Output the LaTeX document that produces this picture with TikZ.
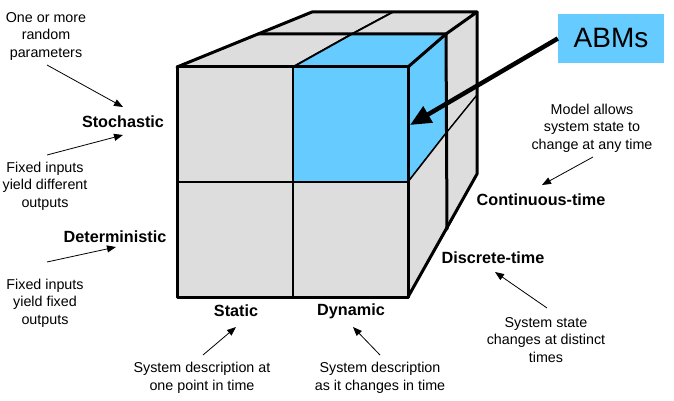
\documentclass[tikz,border=0pt]{standalone}
\usepackage{fontspec}
\setmainfont{Liberation Sans}
\usetikzlibrary{arrows.meta}
\definecolor{facegray}{RGB}{221,221,221}
\definecolor{abmblue}{RGB}{102,204,255}
\begin{document}
\begin{tikzpicture}[x=1pt,y=-1pt,
  face/.style={fill=facegray, draw=black, line width=1.8pt, line join=round},
  bluef/.style={fill=abmblue, draw=black, line width=1.8pt, line join=round},
  thinface/.style={fill=facegray, draw=black, line width=1.3pt, line join=round},
  outer/.style={draw=black, line width=3pt, line join=round, line cap=round},
  lbl/.style={font=\fontsize{16.2}{19}\selectfont\bfseries, inner sep=0pt},
  note/.style={font=\fontsize{14.3}{17.5}\selectfont, align=center, inner sep=0pt},
  thinarrow/.style={-{Triangle[length=9pt,width=7pt]}, line width=0.8pt},
  bigarrow/.style={-{Triangle[length=21pt,width=18pt]}, line width=4.5pt},
  abmbox/.style={fill=abmblue, minimum width=106pt, minimum height=49pt, inner sep=0pt, font=\fontsize{28}{30}\selectfont}
  ]
\useasboundingbox (0,0) rectangle (674,401);

% ---- top face ----
\path[face] (177,67) -- (258,34) -- (352,34) -- (293,67) -- cycle;
\path[bluef] (293,67) -- (352,34) -- (446,34) -- (408,67) -- cycle;
\path[face] (258,34) -- (312,12) -- (393,12) -- (352,34) -- cycle;
\path[face] (352,34) -- (393,12) -- (477,12) -- (446,34) -- cycle;

% ---- right face ----
\path[bluef] (408,67) -- (446,34) -- (447,132) -- (408,182) -- cycle;
\path[thinface] (408,182) -- (447,132) -- (447,229) -- (408,297) -- cycle;
\path[thinface] (446,34) -- (477,12) -- (477,95) -- (447,132) -- cycle;
\path[thinface] (447,132) -- (477,95) -- (477,174) -- (447,229) -- cycle;

% ---- front face ----
\path[face] (177,67) rectangle (293,182);
\path[bluef] (293,67) rectangle (408,182);
\path[face] (177,182) rectangle (293,297);
\path[face] (293,182) rectangle (408,297);

% ---- outlines ----
\draw[outer] (177,67) rectangle (408,297);
\draw[outer] (177,67) -- (312,12) -- (477,12) -- (446,34) -- (408,67);
\draw[outer] (258,34) -- (446,34) -- (447,229);
\draw[outer] (477,12) -- (477,174) -- (408,297);

% ---- labels ----
\node[note] (n1) at (46,36) {One or more\\random\\parameters};
\node[lbl] (stoch) at (123,122) {Stochastic};
\node[note] (n2) at (45,186) {Fixed inputs\\yield different\\outputs};
\node[lbl] (det) at (115,237) {Deterministic};
\node[note] (n3) at (45,303) {Fixed inputs\\yield fixed\\outputs};
\node[lbl] (static) at (236,311) {Static};
\node[lbl] (dyn) at (351,311) {Dynamic};
\node[note] (n4) at (202,378) {System description at\\one point in time};
\node[note] (n5) at (380,378) {System description\\as it changes in time};
\node[note] (n6) at (592,128) {Model allows\\system state to\\change at any time};
\node[lbl] (cont) at (541,200) {Continuous-time};
\node[lbl] (disc) at (493,258) {Discrete-time};
\node[note] (n7) at (546,340) {System state\\changes at distinct\\times};
\node[abmbox] (abm) at (611,38.5) {ABMs};

% ---- arrow end points ----
\coordinate (a1s) at (47,65);   \coordinate (a1e) at (123,107);
\coordinate (a2s) at (47,155);  \coordinate (a2e) at (123,135);
\coordinate (a3s) at (47,262);  \coordinate (a3e) at (116,247);
\coordinate (a4s) at (203,355); \coordinate (a4e) at (236,327);
\coordinate (a5s) at (380,355); \coordinate (a5e) at (353,327);
\coordinate (a6s) at (593,157); \coordinate (a6e) at (542,185);
\coordinate (a7s) at (547,308); \coordinate (a7e) at (495,272);
\coordinate (abmtip) at (410,125);

\draw[thinarrow] (a1s) -- (a1e);
\draw[thinarrow] (a2s) -- (a2e);
\draw[thinarrow] (a3s) -- (a3e);
\draw[thinarrow] (a4s) -- (a4e);
\draw[thinarrow] (a5s) -- (a5e);
\draw[thinarrow] (a6s) -- (a6e);
\draw[thinarrow] (a7s) -- (a7e);
\draw[bigarrow] (abm.west) -- (abmtip);
\end{tikzpicture}
\end{document}
